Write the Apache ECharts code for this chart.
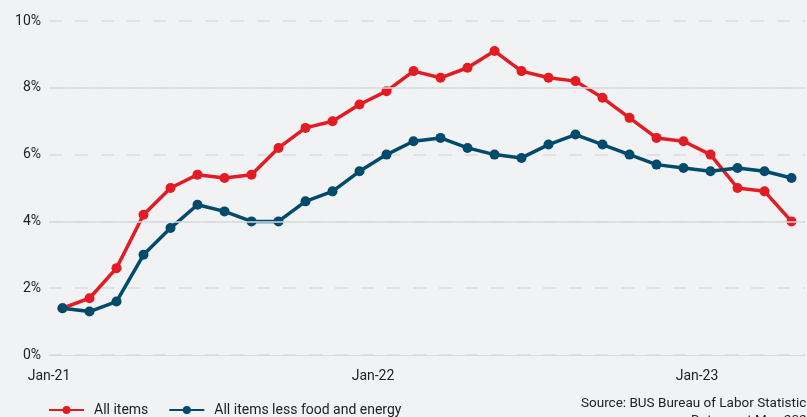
<!DOCTYPE html>
<html>
<head>
<meta charset="utf-8">
<script src="https://cdn.jsdelivr.net/npm/echarts@6/dist/echarts.min.js"></script>
<style>
  html, body { margin: 0; padding: 0; background: #f0f2f4; }
  #chart { width: 807px; height: 417px; }
</style>
</head>
<body>
<div id="chart"></div>
<script>
// month categories, labels shown only on each January
const months = [
  'Jan-21', 'Feb-21', 'Mar-21', 'Apr-21', 'May-21', 'Jun-21', 'Jul-21', 'Aug-21', 'Sep-21', 'Oct-21', 'Nov-21', 'Dec-21',
  'Jan-22', 'Feb-22', 'Mar-22', 'Apr-22', 'May-22', 'Jun-22', 'Jul-22', 'Aug-22', 'Sep-22', 'Oct-22', 'Nov-22', 'Dec-22',
  'Jan-23', 'Feb-23', 'Mar-23', 'Apr-23'
];
const allItems = [1.4, 1.7, 2.6, 4.2, 5.0, 5.4, 5.3, 5.4, 6.2, 6.8, 7.0, 7.5,
  7.9, 8.5, 8.3, 8.6, 9.1, 8.5, 8.3, 8.2, 7.7, 7.1, 6.5, 6.4,
  6.0, 5.0, 4.9, 4.0];
const lessFoodEnergy = [1.4, 1.3, 1.6, 3.0, 3.8, 4.5, 4.3, 4.0, 4.0, 4.6, 4.9, 5.5,
  6.0, 6.4, 6.5, 6.2, 6.0, 5.9, 6.3, 6.6, 6.3, 6.0, 5.7, 5.6,
  5.5, 5.6, 5.5, 5.3];
const solidGridValues = [4, 8];

const RED = '#e31b23';
const BLUE = '#004b6b';
const GRID = '#d9dbde';
const FONT = 'Roboto';

const myChart = echarts.init(document.getElementById('chart'));
const option = {
  backgroundColor: '#f0f2f4',
  textStyle: { fontFamily: FONT },
  grid: { left: 49, right: 2, top: 21, bottom: 62 },
  legend: {
    left: 43,
    top: 398,
    itemWidth: 35,
    itemHeight: 10,
    itemGap: 20,
    textStyle: { fontFamily: FONT, fontSize: 14, color: '#222', padding: [0, 0, 0, 5] },
    data: ['All items', 'All items less food and energy']
  },
  xAxis: {
    type: 'category',
    boundaryGap: true,
    data: months,
    axisLine: { lineStyle: { color: GRID, width: 1 } },
    axisTick: { interval: 11, length: 5, lineStyle: { color: GRID } },
    axisLabel: {
      interval: 11,
      margin: 14,
      fontSize: 14,
      color: '#222',
      padding: [0, 27, 0, 0] // push labels from band centre onto the tick
    },
    splitLine: { show: false }
  },
  yAxis: {
    type: 'value',
    min: 0,
    max: 10,
    interval: 2,
    axisLine: { show: false },
    axisTick: { show: false },
    axisLabel: {
      formatter: '{value}%',
      fontSize: 14,
      color: '#222',
      margin: 8
    },
    splitLine: { lineStyle: { color: GRID, width: 1.5, type: [13, 13] } }
  },
  graphic: [
    {
      type: 'text',
      left: 581,
      top: 397,
      style: { text: 'Source: BUS Bureau of Labor Statistics', font: '13.5px ' + FONT, fill: '#222' }
    },
    {
      type: 'text',
      left: 691,
      top: 414,
      style: { text: 'Data as at May 2023', font: '13.5px ' + FONT, fill: '#222' }
    }
  ],
  series: [
    {
      // solid grid lines at 4% and 8%
      name: 'grid',
      type: 'line',
      data: [],
      z: 1,
      silent: true,
      markLine: {
        silent: true,
        symbol: 'none',
        label: { show: false },
        lineStyle: { color: GRID, width: 1.5, type: 'solid' },
        data: solidGridValues.map(v => ({ yAxis: v }))
      }
    },
    {
      name: 'All items',
      type: 'line',
      data: allItems,
      symbol: 'circle',
      symbolSize: 10,
      lineStyle: { color: RED, width: 3.5 },
      itemStyle: { color: RED },
      z: 3
    },
    {
      name: 'All items less food and energy',
      type: 'line',
      data: lessFoodEnergy,
      symbol: 'circle',
      symbolSize: 10,
      lineStyle: { color: BLUE, width: 3.5 },
      itemStyle: { color: BLUE },
      z: 4
    }
  ]
};
myChart.setOption(option);
</script>
</body>
</html>
